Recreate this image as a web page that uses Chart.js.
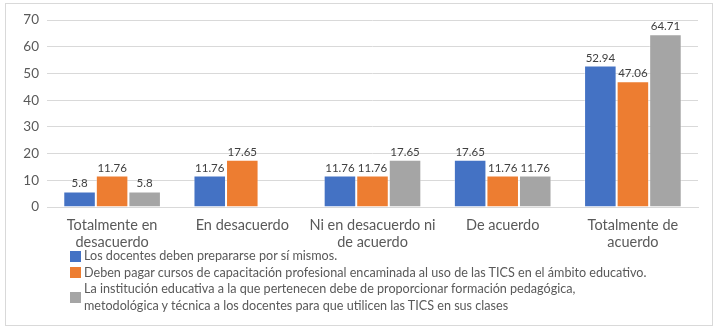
<!DOCTYPE html>
<html>
<head>
<meta charset="utf-8">
<script src="https://cdn.jsdelivr.net/npm/chart.js@4/dist/chart.umd.min.js"></script>
<style>
  body { margin: 0; background: #fff; }
  #wrap { position: relative; width: 722px; height: 327px; }
  #frame { position: absolute; left: 5px; top: 3px; width: 708px; height: 323px; border: 1px solid #d9d9d9; box-sizing: border-box; }
  canvas { position: absolute; left: 0; top: 0; }
  #legend { position: absolute; left: 70px; top: 248px; font-family: Lato, sans-serif; font-size: 12.6px; color: #595959; }
  .item { display: flex; align-items: center; }
  .box { width: 11px; height: 11px; margin-right: 3px; flex: none; }
  .item span { line-height: 16.5px; }
</style>
</head>
<body>
<div id="wrap">
  <div id="frame"></div>
  <canvas id="chart" width="722" height="327"></canvas>
  <div id="legend"></div>
</div>
<script>
const categorias = [['Totalmente en', 'desacuerdo'], 'En desacuerdo', ['Ni en desacuerdo ni', 'de acuerdo'], 'De acuerdo', ['Totalmente de', 'acuerdo']];
const series = [
  'Los docentes deben prepararse por sí mismos.',
  'Deben pagar cursos de capacitación profesional encaminada al uso de las TICS en el ámbito educativo.',
  'La institución educativa a la que pertenecen debe de proporcionar formación pedagógica, metodológica y técnica a los docentes para que utilicen las TICS en sus clases'
];
const porSiMismos = [5.8, 11.76, 11.76, 17.65, 52.94];
const pagarCursos = [11.76, 17.65, 11.76, 11.76, 47.06];
const institucion = [5.8, null, 17.65, 11.76, 64.71];
const colores = ['#4472C4', '#ED7D31', '#A5A5A5'];
const ticksY = [0, 10, 20, 30, 40, 50, 60, 70];

// etiquetas de valor encima de cada barra
const etiquetas = {
  id: 'etiquetas',
  afterDatasetsDraw(chart) {
    const ctx = chart.ctx;
    ctx.save();
    ctx.font = '11.5px Lato, sans-serif';
    ctx.fillStyle = '#404040';
    ctx.textAlign = 'center';
    ctx.textBaseline = 'bottom';
    chart.data.datasets.forEach((ds, i) => {
      chart.getDatasetMeta(i).data.forEach((bar, j) => {
        if (ds.data[j] == null) return;
        ctx.fillText(String(ds.data[j]), bar.x, bar.y - 2);
      });
    });
    ctx.restore();
  }
};

const datos = [porSiMismos, pagarCursos, institucion];
new Chart(document.getElementById('chart'), {
  type: 'bar',
  data: {
    labels: categorias,
    datasets: datos.map((d, i) => ({
      label: series[i],
      data: d,
      backgroundColor: colores[i],
      borderColor: 'rgba(255,255,255,0.35)',
      borderWidth: 1,
      barPercentage: 1,
      categoryPercentage: 0.75
    }))
  },
  options: {
    responsive: false,
    animation: false,
    layout: { padding: { left: 0, right: 24, top: 20, bottom: 0 } },
    plugins: { legend: { display: false }, tooltip: { enabled: false } },
    scales: {
      x: {
        grid: { display: false, drawTicks: false },
        border: { color: '#d9d9d9' },
        ticks: { padding: 10, maxRotation: 0, minRotation: 0, autoSkip: false, color: '#595959', font: { family: 'Lato, sans-serif', size: 14.5, lineHeight: 1.18 } },
        afterFit(s) { s.height = 120; }
      },
      y: {
        min: 0, max: 70,
        afterBuildTicks(s) { s.ticks = ticksY.map(v => ({ value: v })); },
        grid: { color: '#d9d9d9', drawTicks: false },
        border: { display: false },
        ticks: { padding: 8, color: '#595959', font: { family: 'Lato, sans-serif', size: 13.5 } },
        afterFit(s) { s.width = 47; }
      }
    }
  },
  plugins: [etiquetas]
});

const leyenda = document.getElementById('legend');
series.forEach((t, i) => {
  const it = document.createElement('div');
  it.className = 'item';
  it.innerHTML = '<div class="box" style="background:' + colores[i] + '"></div><span>' + t + '</span>';
  if (i === 2) it.querySelector('span').style.maxWidth = '545px';
  leyenda.appendChild(it);
});
</script>
</body>
</html>
